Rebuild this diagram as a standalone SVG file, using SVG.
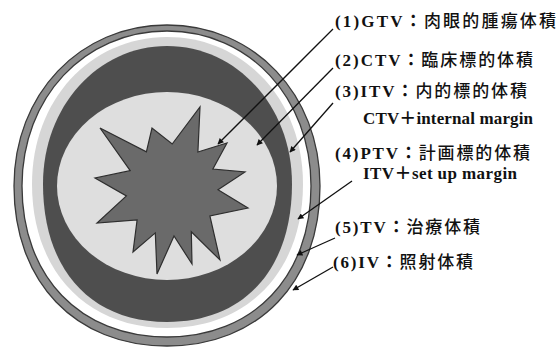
<svg xmlns="http://www.w3.org/2000/svg" width="557" height="351" viewBox="0 0 557 351">
<style>
  .lbl { font-family: "Liberation Serif", "Noto Sans CJK JP", serif; font-size: 17px; font-weight: bold; fill: #111; }
  .j { font-family: "Noto Sans CJK JP", "Liberation Serif", sans-serif; font-weight: 500; }
  .conn { stroke: #111; stroke-width: 1.3; fill: none; marker-end: url(#ah); }
</style>
<defs>
  <marker id="ah" viewBox="0 0 10 10" refX="9" refY="5" markerWidth="8" markerHeight="6" markerUnits="userSpaceOnUse" orient="auto">
    <path d="M0,0 L10,5 L0,10 Z" fill="#111"/>
  </marker>
</defs>
<rect width="557" height="351" fill="#ffffff"/>

<g id="iv">
  <path d="M320,186 C320,282 258.8,346 167,346 C75.2,346 14,282 14,186 C14,94.2 79.8,25 167,25 C254.2,25 320,94.2 320,186Z" fill="#8c8c8c" stroke="#3a3a3a" stroke-width="1.3"/>
</g>
<g id="tv">
  <path d="M311,186 C311,276.6 253.4,337 167,337 C80,337 22,276.6 22,186 C22,97.6 84.3,31 167,31 C249.1,31 311,97.6 311,186Z" fill="#ffffff" stroke="#3a3a3a" stroke-width="1.3"/>
</g>
<g id="ptv">
  <path d="M303,184 C303,270.4 248.6,328 167,328 C86,328 32,270.4 32,184 C32,100.2 90,37 167,37 C244.5,37 303,100.2 303,184Z" fill="#d6d6d6"/>
</g>
<g id="itv">
  <path d="M292,184 C292,268.9 244.5,322 167,322 C90.1,322 43,268.9 43,184 C43,106.7 97.6,46 167,46 C237,46 292,106.7 292,184Z" fill="#4e4e4e"/>
</g>
<g id="ctv">
  <ellipse cx="167" cy="186" rx="110" ry="94" fill="#dedede"/>
</g>
<g id="gtv">
  <polygon points="100,128 146.4,151.8 152,128 172.2,144 200,107 197.9,152 227,143 212.9,169 245,172 218,189.8 248,208 209.9,216 220,260 191.3,231.8 192,264 174,236 157,274 155.3,232.9 133,252 137.1,220 97,223 126.4,195.9 95,178 130.2,170.7" fill="#6a6a6a" stroke="#2e2e2e" stroke-width="1.2" stroke-linejoin="miter"/>
</g>

<g id="connectors">
  <line class="conn" x1="333" y1="29" x2="218" y2="144"/>
  <line class="conn" x1="333" y1="68" x2="257" y2="145"/>
  <line class="conn" x1="333" y1="103" x2="290" y2="152"/>
  <line class="conn" x1="352" y1="181" x2="298" y2="219"/>
  <line class="conn" x1="335" y1="238" x2="297" y2="255"/>
  <line class="conn" x1="333" y1="267" x2="293" y2="290"/>
</g>

<g id="label-gtv"><text class="lbl" x="335" y="27" textLength="221">(1)GTV：<tspan class="j">肉眼的腫瘍体積</tspan></text></g>
<g id="label-ctv"><text class="lbl" x="335" y="66" textLength="198">(2)CTV：<tspan class="j">臨床標的体積</tspan></text></g>
<g id="label-itv">
  <text class="lbl" x="335" y="97" textLength="192">(3)ITV：<tspan class="j">内的標的体積</tspan></text>
  <text class="lbl" x="363" y="124" textLength="170">CTV＋internal margin</text>
</g>
<g id="label-ptv">
  <text class="lbl" x="335" y="159" textLength="195">(4)PTV：<tspan class="j">計画標的体積</tspan></text>
  <text class="lbl" x="363" y="179" textLength="154">ITV＋set up margin</text>
</g>
<g id="label-tv"><text class="lbl" x="335" y="233" textLength="145">(5)TV：<tspan class="j">治療体積</tspan></text></g>
<g id="label-iv"><text class="lbl" x="333" y="268" textLength="140">(6)IV：<tspan class="j">照射体積</tspan></text></g>
</svg>
